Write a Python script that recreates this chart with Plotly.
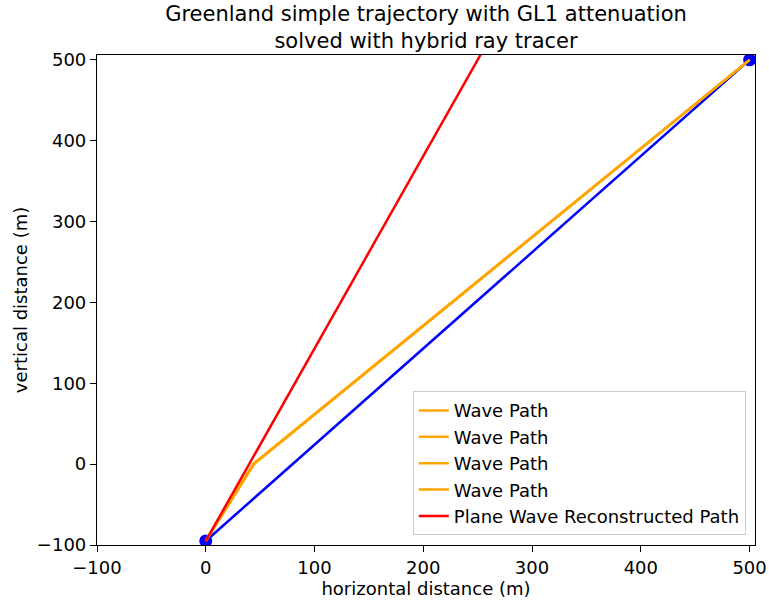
import plotly.graph_objects as go

# Data
endpoints_x = [0, 500]
endpoints_y = [-95, 500]
wave_paths = [
    ([0, 44, 500], [-95, 0, 500]),
    ([0, 44.5, 500], [-95, 0.5, 500]),
    ([0, 44, 500], [-95, 0.2, 500]),
    ([0, 43.5, 500], [-95, 0, 500]),
]
plane_x = [0, 300]
plane_y = [-95, 619]

xticks = [-100, 0, 100, 200, 300, 400, 500]
yticks = [-100, 0, 100, 200, 300, 400, 500]

font_family = "DejaVu Sans"

fig = go.Figure()

fig.add_trace(go.Scatter(
    x=endpoints_x, y=endpoints_y, mode="lines+markers",
    line=dict(color="blue", width=2.5),
    marker=dict(color="blue", size=13),
    showlegend=False, legendgroup="g0",
))

for i, (wx, wy) in enumerate(wave_paths):
    fig.add_trace(go.Scatter(
        x=wx, y=wy, mode="lines",
        line=dict(color="orange", width=2.5),
        name="Wave Path", legendgroup=f"w{i}",
    ))

fig.add_trace(go.Scatter(
    x=plane_x, y=plane_y, mode="lines",
    line=dict(color="red", width=2.5),
    name="Plane Wave Reconstructed Path", legendgroup="p",
))

def ticklabels(vals):
    return [("\u2212" + str(abs(v))) if v < 0 else str(v) for v in vals]

axis_common = dict(
    showline=True, linecolor="black", linewidth=1.2, mirror=True,
    ticks="outside", ticklen=6, tickwidth=1.2, tickcolor="black",
    showgrid=False, zeroline=False,
    tickfont=dict(family=font_family, size=18, color="black"),
)

fig.update_layout(
    width=769, height=605,
    paper_bgcolor="white", plot_bgcolor="white",
    margin=dict(l=97, r=14, t=55, b=60),
    font=dict(family=font_family, color="black"),
    title=dict(
        text="Greenland simple trajectory with GL1 attenuation<br>solved with hybrid ray tracer",
        x=(97 + 755) / 2 / 769, xanchor="center",
        y=1 - 21 / 605, yanchor="middle",
        font=dict(family=font_family, size=21, color="black"),
    ),
    xaxis=dict(
        range=[-100, 505], tickvals=xticks, ticktext=ticklabels(xticks),
        title=dict(text="horizontal distance (m)", font=dict(family=font_family, size=18), standoff=4),
        automargin=False,
        **axis_common,
    ),
    yaxis=dict(
        range=[-100, 506], tickvals=yticks, ticktext=ticklabels(yticks),
        title=dict(text="vertical distance (m)", font=dict(family=font_family, size=18), standoff=4),
        automargin=False,
        **axis_common,
    ),
    legend=dict(
        x=0.986, y=0.02, xanchor="right", yanchor="bottom",
        bgcolor="rgba(255,255,255,0.8)", bordercolor="#cccccc", borderwidth=1,
        font=dict(family=font_family, size=18, color="black"),
        traceorder="grouped", tracegroupgap=0,
    ),
)

fig.write_html(
    "out.html",
    config={"displayModeBar": False},
    post_script="document.body.style.margin='0';document.body.style.padding='0';",
)
